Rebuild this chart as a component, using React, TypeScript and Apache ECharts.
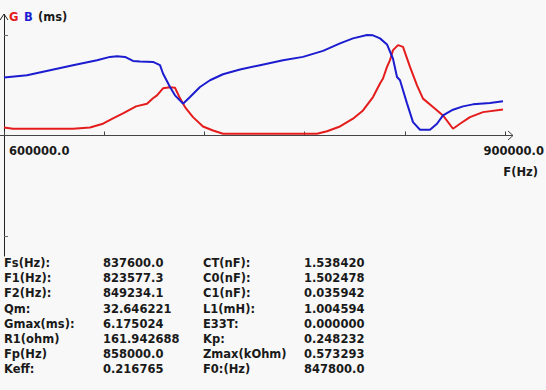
import React, { useEffect, useRef } from "react";
import * as echarts from "echarts";

// G (conductance, ms) — red
const gFreq = [600000, 605389, 621557, 641317, 651497, 659281, 665269, 671257, 679042, 685628, 689221, 691616, 695209, 699401, 702395, 705389, 708383, 713173, 719161, 725149, 731137, 787424, 793412, 801197, 808981, 814969, 820957, 825149, 826945, 829340, 831137, 832933, 835927, 838921, 843113, 847305, 850898, 856886, 862873, 868861, 873053, 879041, 886825, 898801];
const gValues = [0.56, 0.47, 0.47, 0.47, 0.56, 0.82, 1.19, 1.54, 2.03, 2.21, 2.6, 2.8, 3.29, 3.36, 3.33, 2.59, 1.98, 1.28, 0.63, 0.35, 0.12, 0.12, 0.3, 0.63, 1.17, 1.75, 2.68, 3.62, 3.97, 4.78, 5.25, 5.95, 6.3, 6.18, 4.78, 3.5, 2.57, 1.98, 1.4, 0.47, 0.82, 1.28, 1.63, 1.82];

// B (susceptance, ms) — blue
const bFreq = [600000, 613772, 627545, 641317, 655688, 663473, 667664, 672455, 677245, 681437, 689221, 693413, 695209, 699401, 702395, 707185, 711377, 717365, 723353, 731137, 741317, 753293, 767065, 779041, 791017, 801197, 808981, 817364, 820957, 825149, 829340, 832933, 835329, 837126, 841317, 844910, 849102, 855090, 859281, 862873, 868861, 874850, 880838, 891018, 898801];
const bValues = [4.04, 4.2, 4.55, 4.9, 5.25, 5.48, 5.53, 5.48, 5.2, 5.16, 5.13, 4.9, 4.32, 3.38, 2.8, 2.22, 2.68, 3.38, 3.85, 4.27, 4.6, 4.9, 5.25, 5.48, 5.9, 6.42, 6.77, 7.0, 6.98, 6.77, 6.35, 5.35, 4.08, 3.85, 2.24, 0.93, 0.4, 0.4, 0.82, 1.4, 1.8, 2.03, 2.17, 2.26, 2.38];

const xTickLabels = ["600000.0", "900000.0"];
const xAxisName = "F(Hz)";
const yTickValues = [-7, 7];

const paramLabels1 = ["Fs(Hz):", "F1(Hz):", "F2(Hz):", "Qm:", "Gmax(ms):", "R1(ohm)", "Fp(Hz)", "Keff:"];
const paramValues1 = ["837600.0", "823577.3", "849234.1", "32.646221", "6.175024", "161.942688", "858000.0", "0.216765"];
const paramLabels2 = ["CT(nF):", "C0(nF):", "C1(nF):", "L1(mH):", "E33T:", "Kp:", "Zmax(kOhm)", "F0:(Hz)"];
const paramValues2 = ["1.538420", "1.502478", "0.035942", "1.004594", "0.000000", "0.248232", "0.573293", "847800.0"];

const RED = "#e41c1c";
const BLUE = "#1c1cd0";
const INK = "#1a1a1a";
const FONT = "DejaVu Sans";

export default function App() {
  const ref = useRef<HTMLDivElement>(null);
  useEffect(() => {
    if (!ref.current) return;
    const chart = echarts.init(ref.current, undefined, { renderer: "svg" });
    const txt = (text: string, x: number, y: number, fill: string, align = "left") => ({
      type: "text",
      x,
      y,
      style: { text, fill, font: `bold 11.5px "${FONT}"`, align, verticalAlign: "middle" },
    });
    const graphics: any[] = [];
    graphics.push(txt("G", 9, 17, RED));
    graphics.push(txt("B", 24, 17, BLUE));
    graphics.push(txt("(ms)", 38, 17, INK));
    graphics.push(txt(xTickLabels[0], 9, 151, INK));
    graphics.push(txt(xTickLabels[1], 544, 151, INK, "right"));
    graphics.push(txt(xAxisName, 538, 172, INK, "right"));
    for (let i = 0; i < paramLabels1.length; i++) {
      const y = 263 + i * 15.2;
      graphics.push(txt(paramLabels1[i], 4, y, INK));
      graphics.push(txt(paramValues1[i], 103, y, INK));
      graphics.push(txt(paramLabels2[i], 203, y, INK));
      graphics.push(txt(paramValues2[i], 304, y, INK));
    }
    // axis arrows
    graphics.push({ type: "polyline", shape: { points: [[0, 20], [4, 14], [8, 20]] }, style: { stroke: "#222", lineWidth: 1, fill: "none" } });
    graphics.push({ type: "line", shape: { x1: 505, y1: 135.5, x2: 513, y2: 135.5 }, style: { stroke: "#444", lineWidth: 1 } });
    graphics.push({ type: "line", shape: { x1: 0, y1: 135.5, x2: 4, y2: 135.5 }, style: { stroke: "#444", lineWidth: 1 } });
    graphics.push({ type: "polyline", shape: { points: [[508, 131], [513, 135.5], [508, 140]] }, style: { stroke: "#444", lineWidth: 1, fill: "none" } });

    chart.setOption({
      animation: false,
      backgroundColor: "#f8f8f8",
      grid: { left: 4, top: 15, width: 501, height: 241, containLabel: false },
      xAxis: {
        type: "value",
        min: 600000,
        max: 900000,
        interval: 60000,
        axisLine: { onZero: true, lineStyle: { color: "#444", width: 1 } },
        axisTick: { show: true, inside: true, length: 4, lineStyle: { color: "#444" } },
        axisLabel: { show: false },
        splitLine: { show: false },
      },
      yAxis: {
        type: "value",
        min: -8.4,
        max: 8.4,
        axisLine: { show: true, lineStyle: { color: "#222", width: 1 } },
        axisTick: { show: true, inside: true, length: 4, customValues: yTickValues, lineStyle: { color: "#666" } },
        axisLabel: { show: false },
        splitLine: { show: false },
      },
      series: [
        {
          type: "line",
          data: gFreq.map((f, i) => [f, gValues[i]]),
          showSymbol: false,
          lineStyle: { color: RED, width: 2 },
          itemStyle: { color: RED },
        },
        {
          type: "line",
          data: bFreq.map((f, i) => [f, bValues[i]]),
          showSymbol: false,
          lineStyle: { color: BLUE, width: 2 },
          itemStyle: { color: BLUE },
        },
      ],
      graphic: graphics,
    });
    return () => chart.dispose();
  }, []);
  return (
    <div
      ref={ref}
      style={{ position: "fixed", left: 0, top: 0, width: 546, height: 390 }}
    />
  );
}
